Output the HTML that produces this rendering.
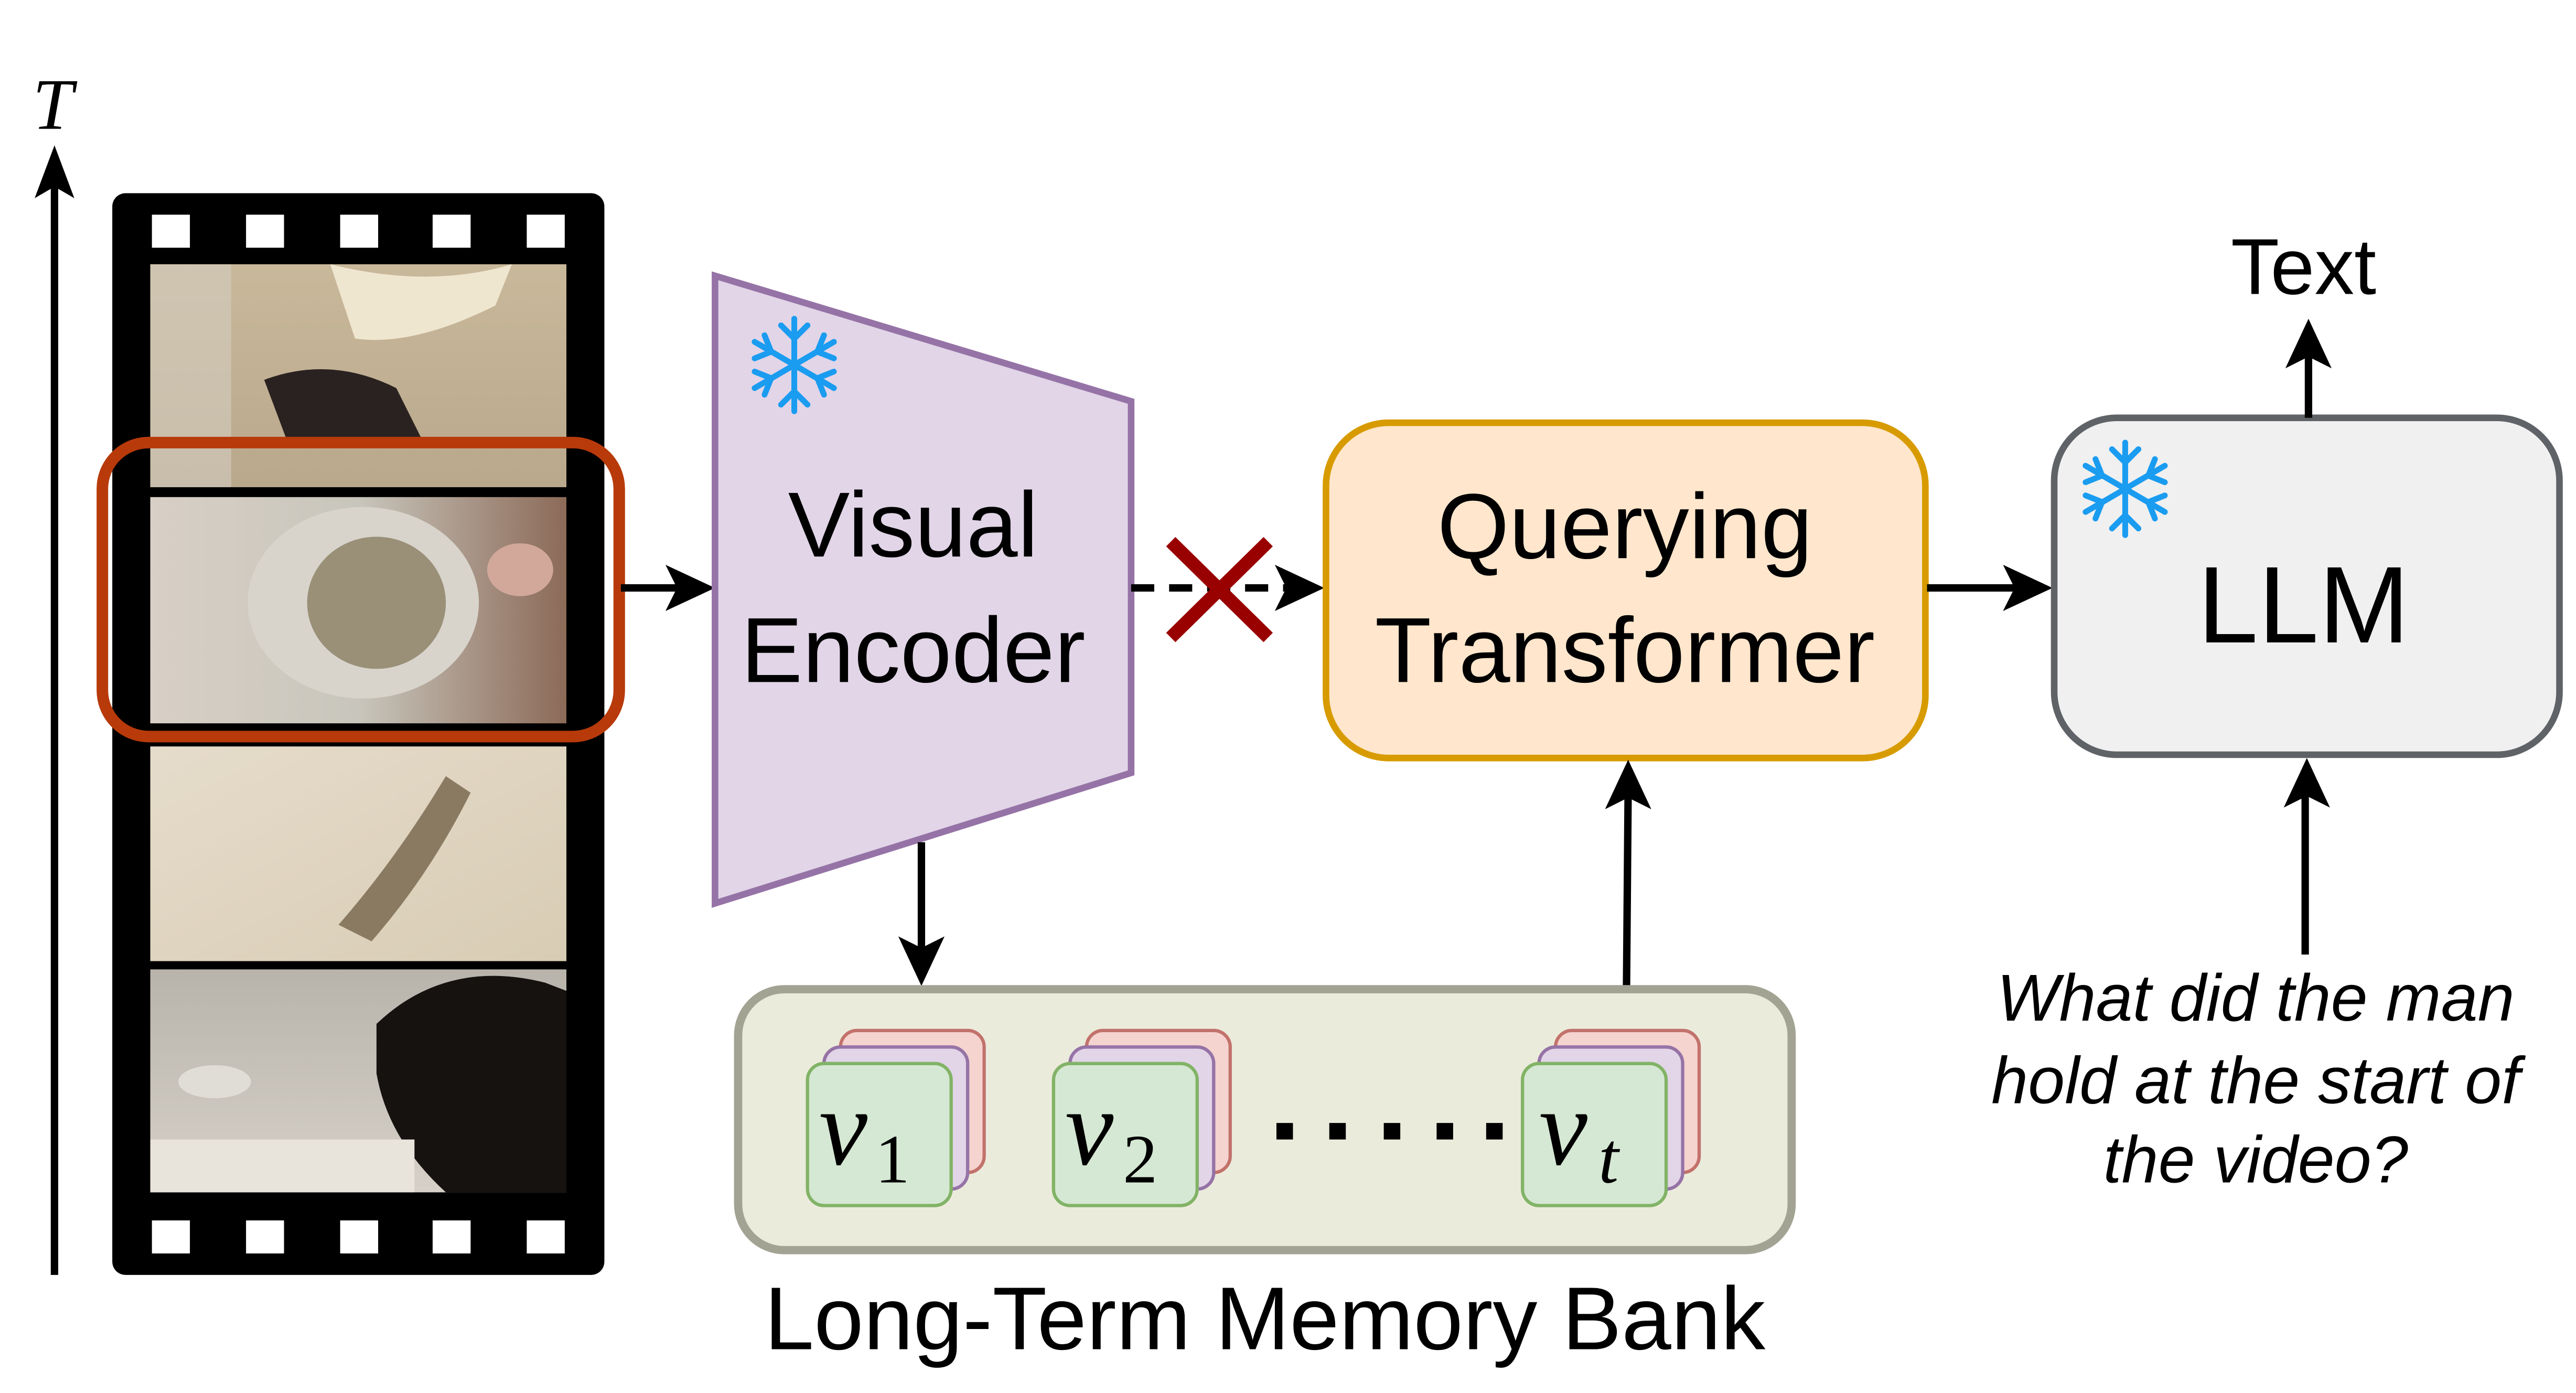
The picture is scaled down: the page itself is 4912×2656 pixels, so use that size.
<!DOCTYPE html>
<html><head><meta charset="utf-8"><style>
html,body{margin:0;padding:0;background:#fff;}
svg{display:block;}
</style></head><body>
<svg width="4912" height="2656" viewBox="0 0 1560 843.5" xmlns="http://www.w3.org/2000/svg">
<defs>
<linearGradient id="f1" x1="0" y1="0" x2="0" y2="1"><stop offset="0" stop-color="#c9b89a"/><stop offset="1" stop-color="#b9a88c"/></linearGradient>
<linearGradient id="f2" x1="0" y1="0" x2="1" y2="0"><stop offset="0" stop-color="#d8cfc6"/><stop offset="0.5" stop-color="#c8c6bc"/><stop offset="1" stop-color="#8c6a58"/></linearGradient>
<linearGradient id="f3" x1="0" y1="0" x2="1" y2="1"><stop offset="0" stop-color="#e6dccb"/><stop offset="1" stop-color="#d8ccb4"/></linearGradient>
<linearGradient id="f4" x1="0" y1="0" x2="0" y2="1"><stop offset="0" stop-color="#b8b4ac"/><stop offset="1" stop-color="#d6d0c8"/></linearGradient>
<g id="snow" stroke="#1a9cf0" stroke-width="3.5" fill="none" stroke-linecap="round">
<line x1="0" y1="-28" x2="0" y2="28"/>
<line x1="-24" y1="-14" x2="24" y2="14"/>
<line x1="-24" y1="14" x2="24" y2="-14"/>
<polyline points="-8,-24 0,-16 8,-24"/><polyline points="-8,24 0,16 8,24"/>
<polyline points="-24,-4 -14,-8 -18,-18"/><polyline points="24,4 14,8 18,18"/>
<polyline points="-24,4 -14,8 -18,18"/><polyline points="24,-4 14,-8 18,-18"/>
</g>
</defs>

<line x1="33" y1="772" x2="33" y2="110" stroke="#000" stroke-width="4.5"/>
<polygon points="33,88 21,120 33,113 45,120" fill="#000"/>
<text x="32" y="78" font-family="Liberation Serif, serif" font-style="italic" font-size="44" text-anchor="middle">T</text>

<rect x="68" y="117" width="298" height="655" rx="8" fill="#000"/>
<g fill="#fff">
<rect x="92" y="130" width="23" height="20"/><rect x="149" y="130" width="23" height="20"/><rect x="206" y="130" width="23" height="20"/><rect x="262" y="130" width="23" height="20"/><rect x="319" y="130" width="23" height="20"/>
<rect x="92" y="739" width="23" height="20"/><rect x="149" y="739" width="23" height="20"/><rect x="206" y="739" width="23" height="20"/><rect x="262" y="739" width="23" height="20"/><rect x="319" y="739" width="23" height="20"/>
</g>
<rect x="91" y="160" width="252" height="135" fill="url(#f1)"/>
<path d="M160,230 Q200,215 240,235 L255,265 L175,270 Z" fill="#2a2220"/>
<path d="M91,160 L140,160 L140,295 L91,295 Z" fill="#d4cdbf" opacity="0.6"/>
<path d="M200,160 Q260,175 310,160 L300,185 Q250,210 215,205 Z" fill="#efe6d0"/>
<rect x="91" y="301" width="252" height="137" fill="url(#f2)"/>
<ellipse cx="220" cy="365" rx="70" ry="58" fill="#d8d4cc"/>
<ellipse cx="228" cy="365" rx="42" ry="40" fill="#9a9078"/>
<ellipse cx="315" cy="345" rx="20" ry="16" fill="#d2a89a"/>
<rect x="91" y="452" width="252" height="130" fill="url(#f3)"/>
<path d="M205,560 Q240,520 270,470 L285,480 Q260,530 225,570 Z" fill="#8a7a62"/>
<rect x="91" y="587" width="252" height="135" fill="url(#f4)"/>
<path d="M228,620 Q270,580 330,595 L343,600 L343,722 L270,722 Q235,690 228,650 Z" fill="#161210"/>
<ellipse cx="130" cy="655" rx="22" ry="10" fill="#e0ddd6"/>
<rect x="91" y="690" width="160" height="32" fill="#e8e4dc"/>
<rect x="62" y="268" width="313" height="178" rx="28" fill="none" stroke="#b83a0a" stroke-width="7"/>

<line x1="376" y1="356" x2="418" y2="356" stroke="#000" stroke-width="4.5"/>
<polygon points="433,356 403,342 410,356 403,370" fill="#000"/>

<polygon points="433,167 685,243 685,468 433,547" fill="#e1d5e7" stroke="#9673a6" stroke-width="4"/>
<use href="#snow" x="481" y="221"/>
<text x="553" y="337" font-family="Liberation Sans, sans-serif" font-size="56" text-anchor="middle">Visual</text>
<text x="553" y="413" font-family="Liberation Sans, sans-serif" font-size="56" text-anchor="middle">Encoder</text>

<line x1="685" y1="356" x2="788" y2="356" stroke="#000" stroke-width="4.5" stroke-dasharray="14,9"/>
<polygon points="802,356 772,342 779,356 772,370" fill="#000"/>
<line x1="709" y1="328" x2="768" y2="386" stroke="#990000" stroke-width="8"/>
<line x1="768" y1="328" x2="709" y2="386" stroke="#990000" stroke-width="8"/>

<rect x="803" y="256" width="363" height="203" rx="38" fill="#ffe6cc" stroke="#d79b00" stroke-width="4"/>
<text x="984" y="338" font-family="Liberation Sans, sans-serif" font-size="56" text-anchor="middle">Querying</text>
<text x="984" y="413" font-family="Liberation Sans, sans-serif" font-size="56" text-anchor="middle">Transformer</text>

<line x1="1167" y1="356" x2="1228" y2="356" stroke="#000" stroke-width="4.5"/>
<polygon points="1243,356 1213,342 1220,356 1213,370" fill="#000"/>

<rect x="1244" y="253" width="306" height="204" rx="38" fill="#f0f0f0" stroke="#5f6266" stroke-width="4"/>
<use href="#snow" x="1287" y="296"/>
<text x="1395" y="389" font-family="Liberation Sans, sans-serif" font-size="66" text-anchor="middle">LLM</text>

<line x1="1398" y1="253" x2="1398" y2="210" stroke="#000" stroke-width="4.5"/>
<polygon points="1398,193 1384,223 1398,216 1412,223" fill="#000"/>
<text x="1395" y="178" font-family="Liberation Sans, sans-serif" font-size="48" text-anchor="middle">Text</text>

<line x1="1396" y1="578" x2="1396" y2="475" stroke="#000" stroke-width="4.5"/>
<polygon points="1397,459 1383,489 1397,482 1411,489" fill="#000"/>
<g font-family="Liberation Sans, sans-serif" font-style="italic" font-size="40" text-anchor="middle">
<text x="1366" y="618">What did the man</text>
<text x="1366" y="668">hold at the start of</text>
<text x="1366" y="716">the video?</text>
</g>

<line x1="558" y1="510" x2="558" y2="582" stroke="#000" stroke-width="4.5"/>
<polygon points="558,597 544,567 558,574 572,567" fill="#000"/>

<line x1="985" y1="598" x2="986" y2="476" stroke="#000" stroke-width="4.5"/>
<polygon points="986,460 972,490 986,483 1000,490" fill="#000"/>

<rect x="447" y="599" width="638" height="158" rx="28" fill="#ebebdc" stroke="#a3a393" stroke-width="5"/>
<g stroke-width="2">
<rect x="509" y="624" width="87" height="86" rx="10" fill="#f8cecc" stroke="#b85450" opacity="0.8"/>
<rect x="499" y="634" width="87" height="86" rx="10" fill="#e1d5e7" stroke="#9673a6"/>
<rect x="489" y="644" width="87" height="86" rx="10" fill="#d5e8d4" stroke="#82b366"/>
<rect x="658" y="624" width="87" height="86" rx="10" fill="#f8cecc" stroke="#b85450" opacity="0.8"/>
<rect x="648" y="634" width="87" height="86" rx="10" fill="#e1d5e7" stroke="#9673a6"/>
<rect x="638" y="644" width="87" height="86" rx="10" fill="#d5e8d4" stroke="#82b366"/>
<rect x="942" y="624" width="87" height="86" rx="10" fill="#f8cecc" stroke="#b85450" opacity="0.8"/>
<rect x="932" y="634" width="87" height="86" rx="10" fill="#e1d5e7" stroke="#9673a6"/>
<rect x="922" y="644" width="87" height="86" rx="10" fill="#d5e8d4" stroke="#82b366"/>
</g>
<g font-family="Liberation Serif, serif" font-style="italic">
<text x="496" y="705" font-size="66">v</text><text x="530" y="716" font-size="42" font-style="normal">1</text>
<text x="645" y="705" font-size="66">v</text><text x="680" y="716" font-size="42" font-style="normal">2</text>
<text x="932" y="705" font-size="66">v</text><text x="968" y="716" font-size="44">t</text>
</g>
<g fill="#000">
<rect x="773" y="680" width="10" height="10"/><rect x="805" y="680" width="10" height="10"/><rect x="838" y="680" width="10" height="10"/><rect x="870" y="680" width="10" height="10"/><rect x="900" y="680" width="10" height="10"/>
</g>
<text x="766" y="817" font-family="Liberation Sans, sans-serif" font-size="54" text-anchor="middle">Long-Term Memory Bank</text>
</svg>
</body></html>
